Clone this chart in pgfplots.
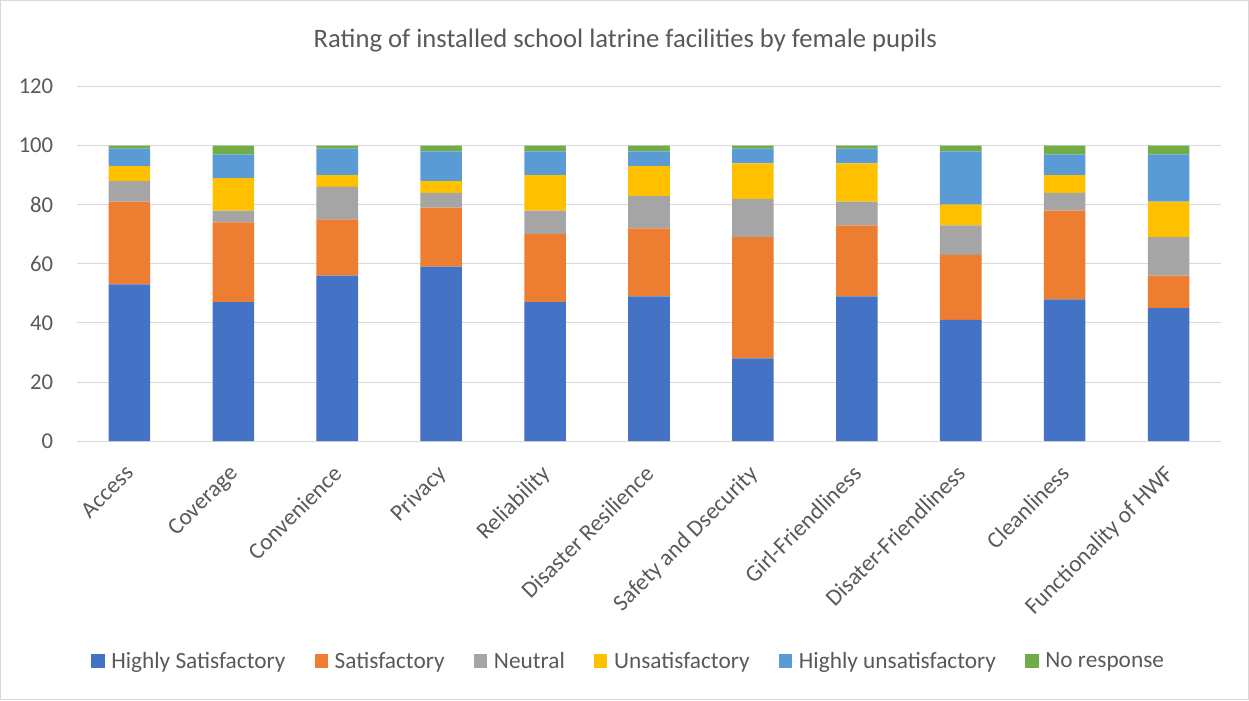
\documentclass[border=0pt]{standalone}
\usepackage{fontspec}
\setmainfont{Carlito}
\usepackage{pgfplots}
\pgfplotsset{compat=1.18}
\definecolor{cHS}{HTML}{4472C4}
\definecolor{cS}{HTML}{ED7D31}
\definecolor{cN}{HTML}{A5A5A5}
\definecolor{cU}{HTML}{FFC000}
\definecolor{cHU}{HTML}{5B9BD5}
\definecolor{cNR}{HTML}{70AD47}
\definecolor{txt}{HTML}{595959}
\definecolor{gridc}{HTML}{D9D9D9}
\begin{document}
\begin{tikzpicture}
\draw[gridc, line width=0.75pt] (0,0) rectangle (936.75pt,525pt);
\node[text=txt, font=\fontsize{20pt}{24pt}\selectfont] at (469pt,495pt) {Rating of installed school latrine facilities by female pupils};
\begin{axis}[
  at={(57.75pt,194.25pt)}, anchor=south west,
  scale only axis, width=858pt, height=266.25pt,
  ybar stacked, bar width=0.4,
  xmin=-0.5, xmax=10.5, ymin=0, ymax=120,
  ytick={0,20,...,120},
  xtick={0,...,10},
  xticklabels={Access,Coverage,Convenience,Privacy,Reliability,Disaster Resilience,Safety and Dsecurity,Girl-Friendliness,Disater-Friendliness,Cleanliness,Functionality of HWF},
  xticklabel style={rotate=45, anchor=north east, inner sep=0pt, xshift=-14.8pt, yshift=-9pt, text=txt, font=\fontsize{17.5pt}{20pt}\selectfont},
  yticklabel style={anchor=east, inner sep=0pt, xshift=-18pt, text=txt, font=\fontsize{17pt}{20pt}\selectfont},
  /pgf/number format/assume math mode=true,
  ymajorgrids, grid style={gridc, line width=0.75pt},
  axis x line*=bottom, axis y line*=left,
  y axis line style={draw=none},
  x axis line style={gridc, line width=0.75pt},
  major tick length=0pt,
  legend columns=6,
  legend style={at={(0.4825,-0.62)}, anchor=center, draw=none, fill=none, font=\fontsize{17.5pt}{20pt}\selectfont, text=txt,
    /tikz/every even column/.append style={column sep=20pt}},
  legend image code/.code={\fill[#1] (0pt,-5pt) rectangle (10pt,5pt); \path (0pt,0pt) -- (13pt,0pt);},
]
\addplot[fill=cHS, draw=none] coordinates {(0,53) (1,47) (2,56) (3,59) (4,47) (5,49) (6,28) (7,49) (8,41) (9,48) (10,45)};
\addplot[fill=cS, draw=none] coordinates {(0,28) (1,27) (2,19) (3,20) (4,23) (5,23) (6,41) (7,24) (8,22) (9,30) (10,11)};
\addplot[fill=cN, draw=none] coordinates {(0,7) (1,4) (2,11) (3,5) (4,8) (5,11) (6,13) (7,8) (8,10) (9,6) (10,13)};
\addplot[fill=cU, draw=none] coordinates {(0,5) (1,11) (2,4) (3,4) (4,12) (5,10) (6,12) (7,13) (8,7) (9,6) (10,12)};
\addplot[fill=cHU, draw=none] coordinates {(0,6) (1,8) (2,9) (3,10) (4,8) (5,5) (6,5) (7,5) (8,18) (9,7) (10,16)};
\addplot[fill=cNR, draw=none] coordinates {(0,1) (1,3) (2,1) (3,2) (4,2) (5,2) (6,1) (7,1) (8,2) (9,3) (10,3)};
\legend{Highly Satisfactory,Satisfactory,Neutral,Unsatisfactory,Highly unsatisfactory,No response}
\end{axis}
\end{tikzpicture}
\end{document}
